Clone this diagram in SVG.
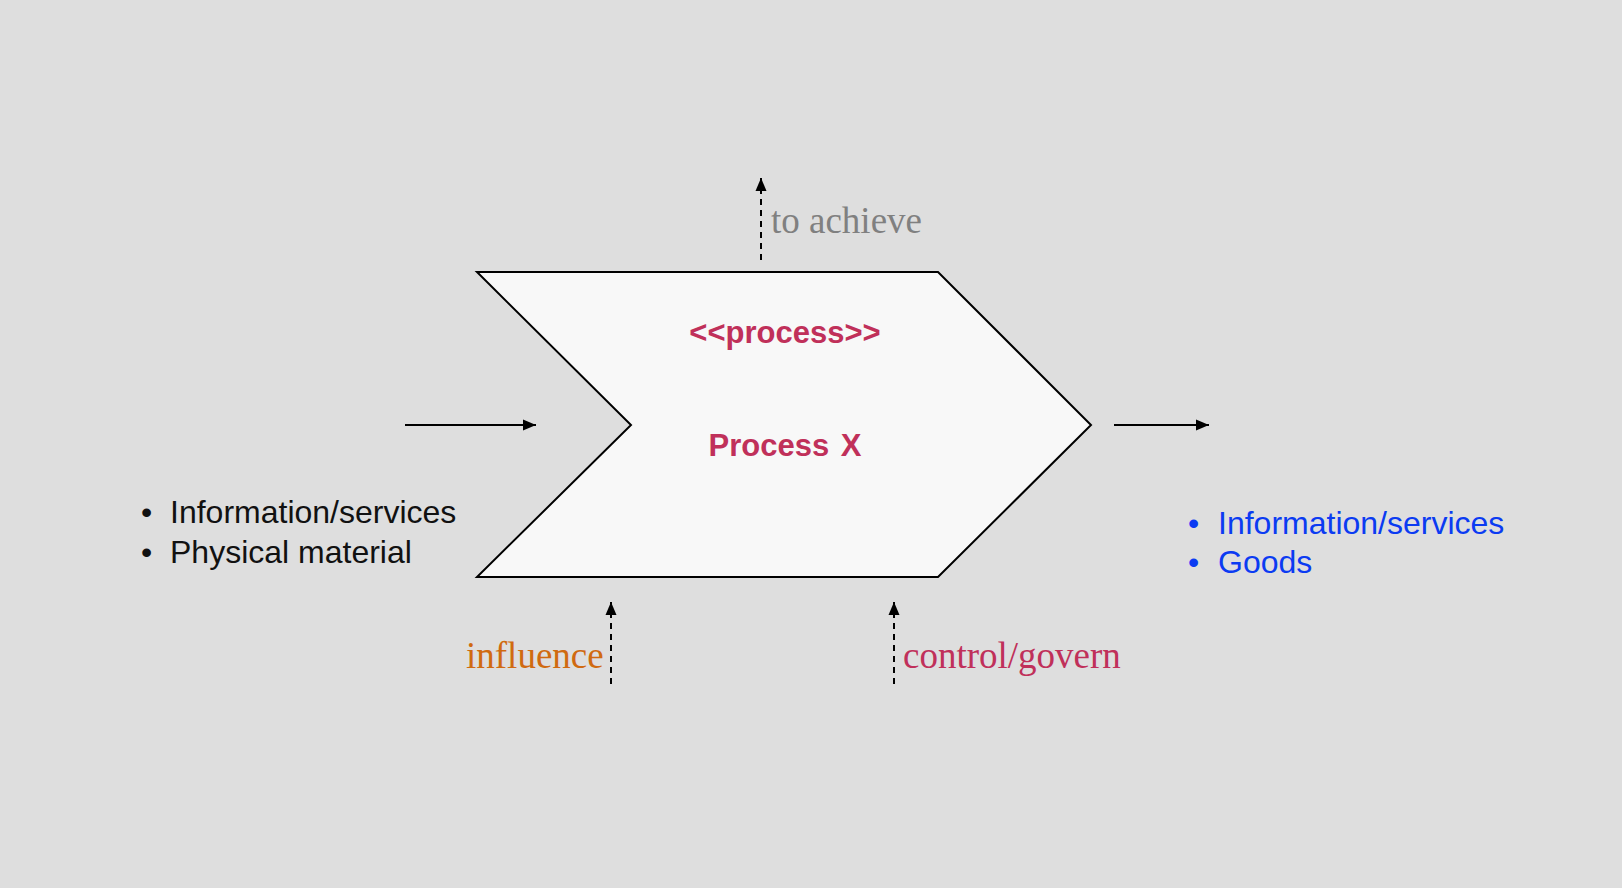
<svg xmlns="http://www.w3.org/2000/svg" width="1622" height="888" viewBox="0 0 1622 888">
  <defs>
    <marker id="ah" markerWidth="13" markerHeight="12" viewBox="0 0 13 12" refX="13" refY="6" orient="auto" markerUnits="userSpaceOnUse">
      <path d="M0,0.5 L13,6 L0,11.5 Z" fill="#000"/>
    </marker>
  </defs>
  <style>
    .bg { fill: #dedede; }
    .shape { fill: #f8f8f8; stroke: #000; stroke-width: 2; }
    .solid { stroke: #000; stroke-width: 2; fill: none; }
    .dash { stroke: #000; stroke-width: 2; fill: none; stroke-dasharray: 6 5; }
    .serif { font-family: "Liberation Serif", "Times New Roman", serif; font-size: 37px; }
    .sans { font-family: "Liberation Sans", Arial, sans-serif; font-size: 32px; }
    .bold { font-family: "Liberation Sans", Arial, sans-serif; font-size: 31px; font-weight: bold; fill: #c0305a; }
  </style>
  <rect class="bg" x="0" y="0" width="1622" height="888"/>

  <g id="process-x">
    <polygon class="shape" points="477,272 938,272 1091,425 938,577 477,577 631,425"/>
    <text class="bold" x="785" y="343" text-anchor="middle">&lt;&lt;process&gt;&gt;</text>
    <text class="bold" x="785" y="456" text-anchor="middle" word-spacing="3">Process X</text>
  </g>

  <g id="inputs">
    <text class="sans" fill="#111">
      <tspan x="141" y="523">•</tspan><tspan x="170" y="523">Information/services</tspan>
      <tspan x="141" y="563">•</tspan><tspan x="170" y="563">Physical material</tspan>
    </text>
  </g>

  <g id="outputs">
    <text class="sans" fill="#0b3bf2">
      <tspan x="1188" y="534">•</tspan><tspan x="1218" y="534">Information/services</tspan>
      <tspan x="1188" y="573">•</tspan><tspan x="1218" y="573">Goods</tspan>
    </text>
  </g>

  <g id="label-achieve">
    <text class="serif" x="771" y="233" fill="#808080">to achieve</text>
  </g>
  <g id="label-influence">
    <text class="serif" x="466" y="668" fill="#d06a10">influence</text>
  </g>
  <g id="label-control">
    <text class="serif" x="903" y="668" fill="#c0305a">control/govern</text>
  </g>

  <g id="connectors">
    <line class="solid" x1="405" y1="425" x2="536" y2="425" marker-end="url(#ah)"/>
    <line class="solid" x1="1114" y1="425" x2="1209" y2="425" marker-end="url(#ah)"/>
    <line class="dash" x1="761" y1="260" x2="761" y2="178" marker-end="url(#ah)"/>
    <line class="dash" x1="611" y1="684" x2="611" y2="602" marker-end="url(#ah)"/>
    <line class="dash" x1="894" y1="684" x2="894" y2="602" marker-end="url(#ah)"/>
  </g>
</svg>
